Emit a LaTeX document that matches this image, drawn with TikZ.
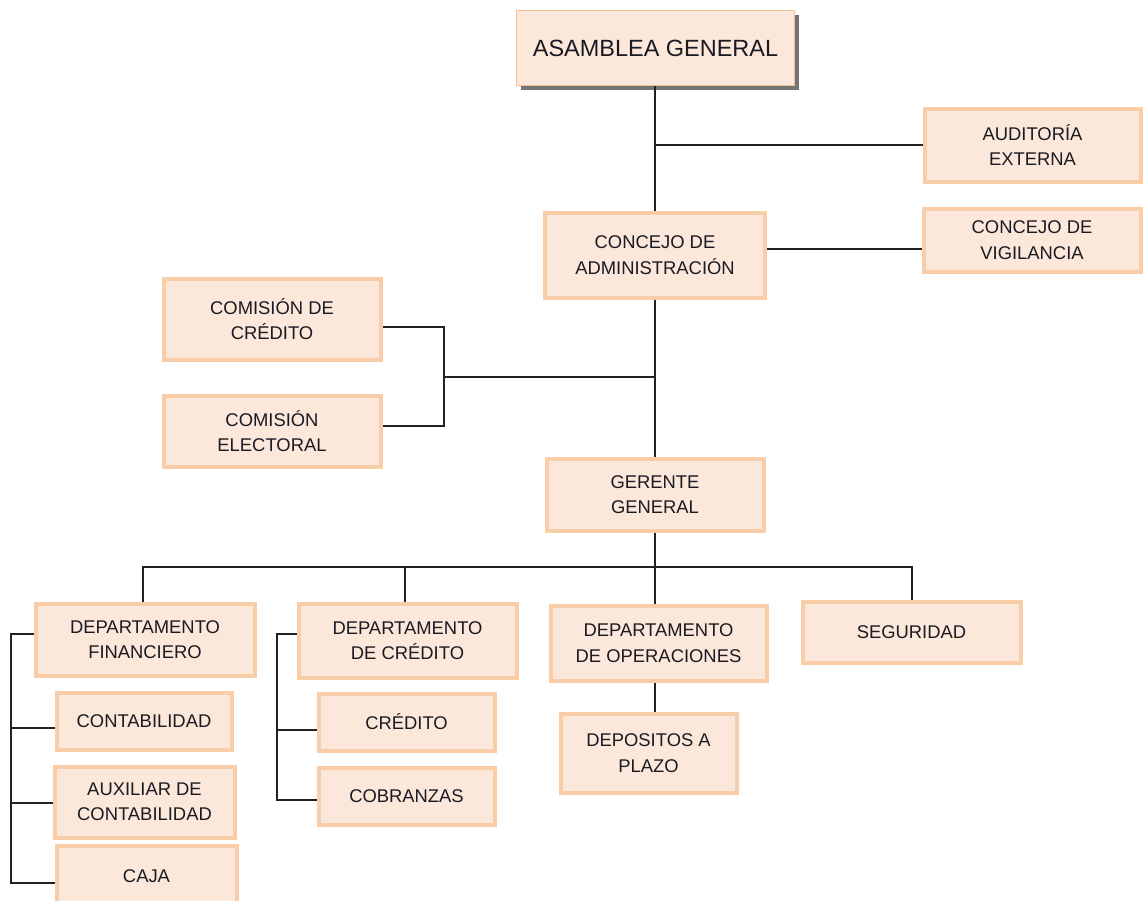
\documentclass[tikz,border=0pt]{standalone}
\usepackage{fontspec}
\setmainfont{Liberation Sans}
\usetikzlibrary{shadows,calc}
\definecolor{boxfill}{HTML}{FCE8DA}
\definecolor{boxline}{HTML}{F9CDA8}
\definecolor{topline}{HTML}{F7BF92}
\definecolor{linkc}{HTML}{222222}
\definecolor{txt}{HTML}{1A1A22}
\tikzset{
  orgbox/.style={draw=boxline, fill=boxfill, line width=3pt, inner sep=0pt,
    align=center, text=txt, font=\fontsize{13.8}{19}\selectfont},
  topbox/.style={draw=topline, fill=boxfill, line width=0.8pt, inner sep=0pt,
    align=center, text=txt, font=\fontsize{17.6}{21}\selectfont,
    drop shadow={shadow xshift=3pt, shadow yshift=-3pt, fill=black!55, opacity=1}},
  link/.style={draw=linkc, line width=1.1pt}
}
\begin{document}
\begin{tikzpicture}[x=0.75pt,y=-0.75pt]
\useasboundingbox (0,0) rectangle (1144,900);
% boxes
\node[topbox, minimum width=278*0.75pt, minimum height=75*0.75pt] (asm) at (655.5,48) {ASAMBLEA GENERAL};
\node[orgbox, minimum width=216*0.75pt, minimum height=73*0.75pt] (aud) at (1032.5,145) {AUDITORÍA\\EXTERNA};
\node[orgbox, minimum width=217*0.75pt, minimum height=63*0.75pt] (vig) at (1032,240) {CONCEJO DE\\VIGILANCIA};
\node[orgbox, minimum width=220*0.75pt, minimum height=85*0.75pt] (adm) at (655,255) {CONCEJO DE\\ADMINISTRACIÓN};
\node[orgbox, minimum width=217*0.75pt, minimum height=81*0.75pt] (comc) at (272,319) {COMISIÓN DE\\CRÉDITO};
\node[orgbox, minimum width=217*0.75pt, minimum height=71*0.75pt] (come) at (272,431) {COMISIÓN\\ELECTORAL};
\node[orgbox, minimum width=217*0.75pt, minimum height=72*0.75pt] (ger) at (655,494.5) {GERENTE\\GENERAL};
\node[orgbox, minimum width=219*0.75pt, minimum height=72*0.75pt] (dfin) at (145,639.5) {DEPARTAMENTO\\FINANCIERO};
\node[orgbox, minimum width=175*0.75pt, minimum height=57*0.75pt] (cont) at (144,721) {CONTABILIDAD};
\node[orgbox, minimum width=180*0.75pt, minimum height=71*0.75pt] (aux) at (144.5,802) {AUXILIAR DE\\CONTABILIDAD};
\node[orgbox, minimum width=180*0.75pt, minimum height=60*0.75pt] (caja) at (146.5,876) {CAJA};
\node[orgbox, minimum width=218*0.75pt, minimum height=74*0.75pt] (dcred) at (407.5,640.5) {DEPARTAMENTO\\DE CRÉDITO};
\node[orgbox, minimum width=176*0.75pt, minimum height=57*0.75pt] (cred) at (406.5,722) {CRÉDITO};
\node[orgbox, minimum width=176*0.75pt, minimum height=57*0.75pt] (cob) at (406.5,796) {COBRANZAS};
\node[orgbox, minimum width=216*0.75pt, minimum height=75*0.75pt] (dop) at (658.5,643) {DEPARTAMENTO\\DE OPERACIONES};
\node[orgbox, minimum width=176*0.75pt, minimum height=79*0.75pt] (dep) at (648.5,753) {DEPOSITOS A\\PLAZO};
\node[orgbox, minimum width=218*0.75pt, minimum height=61*0.75pt] (seg) at (911.5,632) {SEGURIDAD};
% junction coordinates
\coordinate (jaud) at (655,145);
\coordinate (jvig) at (655,249);
\coordinate (jcom) at (655,377);
\coordinate (bm) at (444,377);
\coordinate (b1) at (444,327);
\coordinate (b2) at (444,426);
\coordinate (bus) at (655,567);
\coordinate (t1) at (143,567);
\coordinate (t2) at (405,567);
\coordinate (t4) at (912,567);
\coordinate (l1) at (11,634);
\coordinate (l2) at (11,728);
\coordinate (l3) at (11,803);
\coordinate (l4) at (11,883);
\coordinate (m1) at (277,634);
\coordinate (m2) at (277,730);
\coordinate (m3) at (277,800);
% connectors
\draw[link] (asm.south -| jaud) -- (jaud |- adm.north);
\draw[link] (jaud) -- (jaud -| aud.west);
\draw[link] (jvig -| adm.east) -- (jvig -| vig.west);
\draw[link] (jaud |- adm.south) -- (jaud |- ger.north);
\draw[link] (jcom) -- (bm);
\draw[link] (b1 -| comc.east) -- (b1) -- (b2) -- (b2 -| come.east);
\draw[link] (bus |- ger.south) -- (bus);
\draw[link] (t1 |- dfin.north) -- (t1) -- (t4) -- (t4 |- seg.north);
\draw[link] (t2) -- (t2 |- dcred.north);
\draw[link] (bus) -- (bus |- dop.north);
\draw[link] (bus |- dop.south) -- (bus |- dep.north);
\draw[link] (l1 -| dfin.west) -- (l1) -- (l4) -- (l4 -| caja.west);
\draw[link] (l2) -- (l2 -| cont.west);
\draw[link] (l3) -- (l3 -| aux.west);
\draw[link] (m1 -| dcred.west) -- (m1) -- (m3) -- (m3 -| cob.west);
\draw[link] (m2) -- (m2 -| cred.west);
\end{tikzpicture}
\end{document}
